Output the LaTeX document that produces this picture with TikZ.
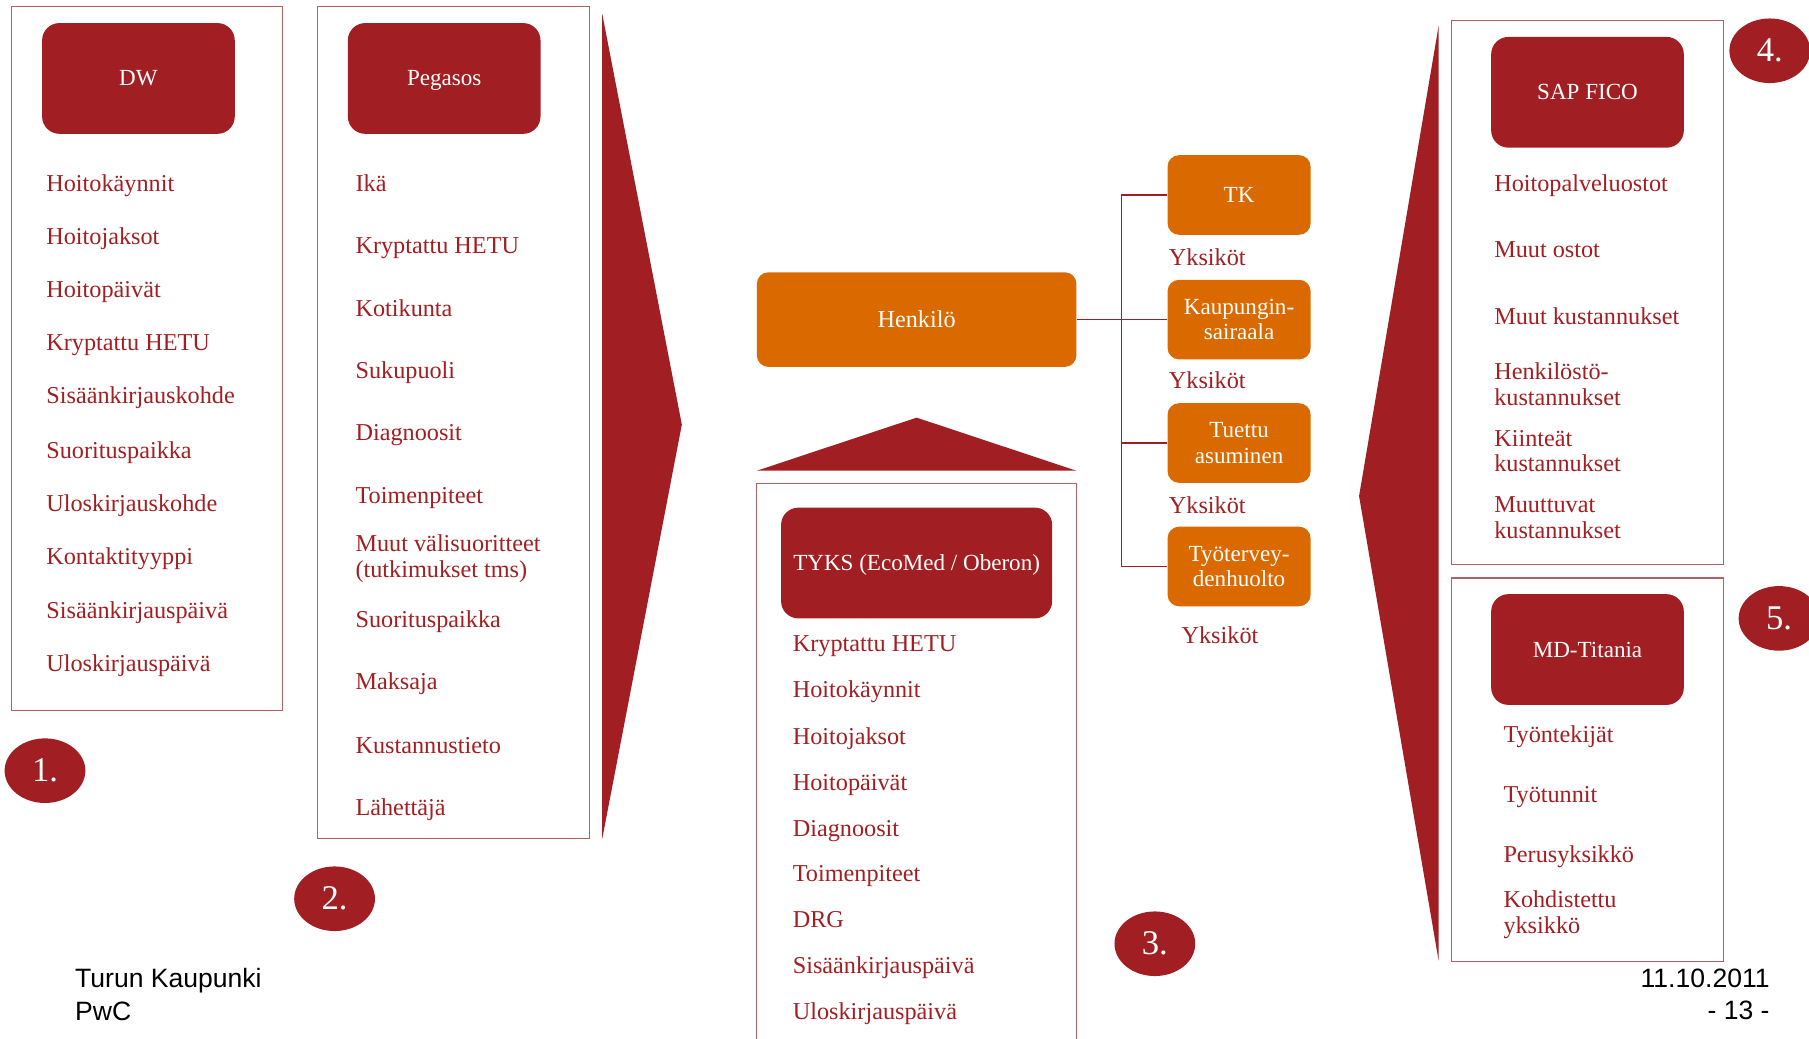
\documentclass[tikz,border=0pt]{standalone}
\usepackage{fontspec}
\setmainfont{Liberation Serif}
\newfontfamily\footfont{Liberation Sans}
\usetikzlibrary{shapes.geometric}
\definecolor{dred}{RGB}{161,31,34}
\definecolor{orng}{RGB}{218,106,0}
\definecolor{frm}{RGB}{180,95,100}
\begin{document}
\begin{tikzpicture}[x=1pt,y=-1pt,
 frame/.style={draw=frm, line width=0.9pt},
 hdr/.style={fill=dred, rounded corners=15pt, text=white, font=\fontsize{20}{24}\selectfont, inner sep=0pt, minimum width=167pt, minimum height=96pt, text height=15pt, text depth=2pt},
 obox/.style={fill=orng, rounded corners=10pt, text=white, font=\fontsize{20}{22}\selectfont, align=center, minimum width=124pt, minimum height=69pt, inner sep=0pt},
 item/.style={anchor=west, text=dred, font=\fontsize{21}{22.5}\selectfont, align=left, inner sep=0pt},
 itm/.style={anchor=base west, text=dred, font=\fontsize{21}{22.5}\selectfont, inner sep=0pt},
 num/.style={ellipse, fill=dred, text=white, minimum width=70pt, minimum height=56pt, font=\fontsize{30}{30}\selectfont, inner sep=0pt},
 conn/.style={draw=dred, line width=1.5pt},
 foot/.style={font=\footfont\fontsize{23}{28}\selectfont, inner sep=0pt, align=left}]
\useasboundingbox (0,0) rectangle (1568,900);

% column 1
\draw[frame] (10,6) rectangle (245,616);
\node[hdr] (dw) at (120,68) {DW};
\foreach \t/\y [count=\i] in {Hoitokäynnit/159, Hoitojaksot/205, Hoitopäivät/251, Kryptattu HETU/297, Sisäänkirjauskohde/343, Suorituspaikka/390, Uloskirjauskohde/436, Kontaktityyppi/482, Sisäänkirjauspäivä/529, Uloskirjauspäivä/575}
  \node[itm] (a\i) at (40,\y+7) {\t};
\node[num] (n1) at (39,668) {1.};

% column 2
\draw[frame] (275,6) rectangle (511,727);
\node[hdr] (peg) at (385,68) {Pegasos};
\foreach \t/\y [count=\i] in {Ikä/159, Kryptattu HETU/213, Kotikunta/267, Sukupuoli/321, Diagnoosit/375, Toimenpiteet/429, Suorituspaikka/537, Maksaja/591, Kustannustieto/646, Lähettäjä/700}
  \node[itm] (b\i) at (308,\y+7) {\t};
\node[item] (bmuut) at (308,484) {Muut välisuoritteet\\(tutkimukset tms)};
\node[num] (n2) at (290,779) {2.};

% big arrows
\fill[dred] (522,12) -- (591,368) -- (522,727) -- cycle;
\fill[dred] (1247,22) -- (1178,430) -- (1247,833) -- cycle;

% centre
\node[obox, minimum width=277pt, minimum height=82pt, font=\fontsize{21}{24}\selectfont] (henk) at (794.5,277) {Henkilö};
\fill[dred] (656,408) -- (794.5,362) -- (933,408) -- cycle;
\draw[frame] (656,905) -- (656,419) -- (933,419) -- (933,905);
\node[hdr, minimum width=235pt] (tyks) at (794.5,488) {TYKS (EcoMed / Oberon)};
\foreach \t/\y [count=\i] in {Kryptattu HETU/558, Hoitokäynnit/598, Hoitojaksot/638, Hoitopäivät/678, Diagnoosit/718, Toimenpiteet/757, DRG/797, Sisäänkirjauspäivä/837, Uloskirjauspäivä/877}
  \node[itm] (c\i) at (687,\y+7) {\t};
\node[num] (n3) at (1001,818) {3.};

% units
\node[obox] (tk) at (1074,169) {TK};
\node[obox] (kau) at (1074,277) {Kaupungin-\\sairaala};
\node[obox] (tu) at (1074,384) {Tuettu\\asuminen};
\node[obox] (ty) at (1074,491) {Työtervey-\\denhuolto};
\node[itm] (y1) at (1013,230) {Yksiköt};
\node[itm] (y2) at (1013,337) {Yksiköt};
\node[itm] (y3) at (1013,445) {Yksiköt};
\node[itm] (y4) at (1024,558) {Yksiköt};
\coordinate (j) at (972,277);
\draw[conn] (henk.east) -- (kau.west);
\draw[conn] (tk.west) -- (tk.west -| j) -- (ty.west -| j) -- (ty.west);
\draw[conn] (tu.west) -- (tu.west -| j);

% column 4
\draw[frame] (1258,18) rectangle (1494,489);
\node[hdr] (sap) at (1376,80) {SAP FICO};
\foreach \t/\y [count=\i] in {Hoitopalveluostot/159, Muut ostot/216, Muut kustannukset/274}
  \node[itm] (d\i) at (1295,\y+7) {\t};
\node[item] (d4) at (1295,333) {Henkilöstö-\\kustannukset};
\node[item] (d5) at (1295,391) {Kiinteät\\kustannukset};
\node[item] (d6) at (1295,449) {Muuttuvat\\kustannukset};
\node[num] (n4) at (1534,44) {4.};

% column 5
\draw[frame] (1258,501) rectangle (1494,833);
\node[hdr] (md) at (1376,563) {MD-Titania};
\foreach \t/\y [count=\i] in {Työntekijät/637, Työtunnit/689, Perusyksikkö/741}
  \node[itm] (e\i) at (1303,\y+7) {\t};
\node[item] (e4) at (1303,793) {Kohdistettu\\yksikkö};
\node[num] (n5) at (1542,536) {5.};

% footer
\node[foot, anchor=west] (f1) at (65,862) {Turun Kaupunki\\PwC};
\node[foot, anchor=east, align=right] (f2) at (1534,862) {11.10.2011\\- 13 -};
\end{tikzpicture}
\end{document}
